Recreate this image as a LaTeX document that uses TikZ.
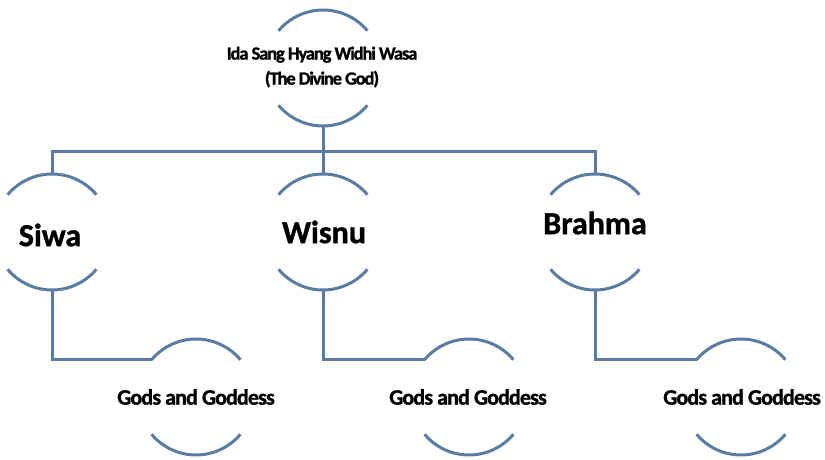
\documentclass[tikz,border=0pt]{standalone}
\usepackage{fontspec}
\setmainfont{Carlito}[BoldFeatures={FakeBold=1.2}]
\definecolor{arcblue}{RGB}{90,124,162}
\begin{document}
\begin{tikzpicture}[x=1pt,y=1pt,
  circ/.style={circle,minimum size=116pt,inner sep=0pt,outer sep=0pt},
  line/.style={draw=arcblue,line width=3pt},
  big/.style={font=\fontsize{32}{36}\selectfont\bfseries,inner sep=0pt},
  small/.style={font=\fontsize{22}{24}\selectfont\bfseries\addfontfeature{LetterSpace=-4},inner sep=0pt},
  toptext/.style={font=\fontsize{18.5}{25}\selectfont\bfseries\addfontfeature{LetterSpace=-6},align=center,inner sep=0pt}]
\useasboundingbox (0,0) rectangle (825,459);
% circles (invisible nodes, arcs drawn on their borders)
\node[circ] (top) at (323,391) {};
\node[circ] (siwa) at (52,227) {};
\node[circ] (wisnu) at (323,227) {};
\node[circ] (brahma) at (595,227) {};
\node[circ] (c1) at (196,62) {};
\node[circ] (c2) at (469,62) {};
\node[circ] (c3) at (741,62) {};
\foreach \n in {top,siwa,wisnu,brahma,c1,c2,c3}{
  \draw[line] (\n.40) arc[start angle=40,end angle=140,radius=58pt];
  \draw[line] (\n.220) arc[start angle=220,end angle=320,radius=58pt];
}
% texts
\node[toptext] (topT) at (322,392) {Ida Sang Hyang Widhi Wasa\\(The Divine God)};
\node[big] (siwaT) at (50,224) {Siwa};
\node[big] (wisnuT) at (324,227) {Wisnu};
\node[big] (brahmaT) at (595,236) {Brahma};
\node[small] (c1T) at (196,62) {Gods and Goddess};
\node[small] (c2T) at (468,62) {Gods and Goddess};
\node[small] (c3T) at (742,62) {Gods and Goddess};
% connectors
\coordinate (bar) at (323,308);
\draw[line] (top.south) -- (wisnu.north);
\draw[line] (siwa.north) |- (bar) -| (brahma.north);
\draw[line] (siwa.south) |- (c1.140);
\draw[line] (wisnu.south) |- (c2.140);
\draw[line] (brahma.south) |- (c3.140);
\end{tikzpicture}
\end{document}
